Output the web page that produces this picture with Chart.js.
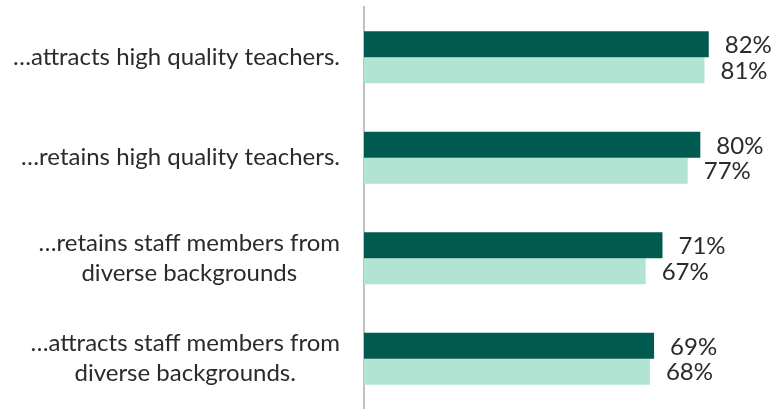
<!DOCTYPE html>
<html>
<head>
<meta charset="utf-8">
<script src="https://cdn.jsdelivr.net/npm/chart.js@4"></script>
<style>
  html, body { margin: 0; padding: 0; background: #fff; }
  #wrap { width: 776px; height: 409px; }
</style>
</head>
<body>
<div id="wrap"><canvas id="surveyChart"></canvas></div>
<script>
const categories = [
  ['\u2026attracts high quality teachers.'],
  ['\u2026retains high quality teachers.'],
  ['\u2026retains staff members from', 'diverse backgrounds'],
  ['\u2026attracts staff members from', 'diverse backgrounds.']
];
const seriesA = [82, 80, 71, 69];
const seriesB = [81, 77, 67, 68];

const FONT = '24px Lato';
const TEXT = '#2b2b2b';

// value labels to the right of each bar
const valueLabels = {
  id: 'valueLabels',
  afterDatasetsDraw(chart) {
    const ctx = chart.ctx;
    ctx.save();
    ctx.font = FONT;
    ctx.fillStyle = TEXT;
    ctx.textAlign = 'left';
    ctx.textBaseline = 'middle';
    chart.data.datasets.forEach((ds, d) => {
      chart.getDatasetMeta(d).data.forEach((bar, i) => {
        ctx.fillText(ds.data[i] + '%', bar.x + 16, bar.y + 1);
      });
    });
    ctx.restore();
  }
};

// category labels: block right aligned, lines centred within block
const categoryLabels = {
  id: 'categoryLabels',
  afterDraw(chart) {
    const ctx = chart.ctx;
    const yScale = chart.scales.y;
    const right = chart.chartArea.left - 24;
    ctx.save();
    ctx.font = FONT;
    ctx.fillStyle = TEXT;
    ctx.textAlign = 'center';
    ctx.textBaseline = 'middle';
    categories.forEach((lines, i) => {
      const y = yScale.getPixelForTick(i);
      const w = Math.max(...lines.map(l => ctx.measureText(l).width));
      const cx = right - w / 2;
      lines.forEach((line, j) => {
        ctx.fillText(line, cx, y + (j - (lines.length - 1) / 2) * 30);
      });
    });
    ctx.restore();
  }
};

const ctx = document.getElementById('surveyChart').getContext('2d');
new Chart(ctx, {
  type: 'bar',
  data: {
    labels: categories,
    datasets: [
      {
        label: 'Series A',
        data: seriesA,
        backgroundColor: '#005a4f'
      },
      {
        label: 'Series B',
        data: seriesB,
        backgroundColor: '#b1e4d3'
      }
    ]
  },
  options: {
    indexAxis: 'y',
    responsive: true,
    maintainAspectRatio: false,
    animation: false,
    layout: { padding: { top: 7, right: 0, bottom: 0, left: 0 } },
    datasets: {
      bar: { categoryPercentage: 0.515, barPercentage: 1 }
    },
    plugins: {
      legend: { display: false },
      tooltip: { enabled: false }
    },
    scales: {
      x: {
        display: false,
        min: 0,
        max: 98
      },
      y: {
        grid: { display: false },
        ticks: { display: false },
        border: { display: true, color: '#c0c0c0', width: 2 },
        afterFit(scale) { scale.width = 364; }
      }
    }
  },
  plugins: [valueLabels, categoryLabels]
});
</script>
</body>
</html>
